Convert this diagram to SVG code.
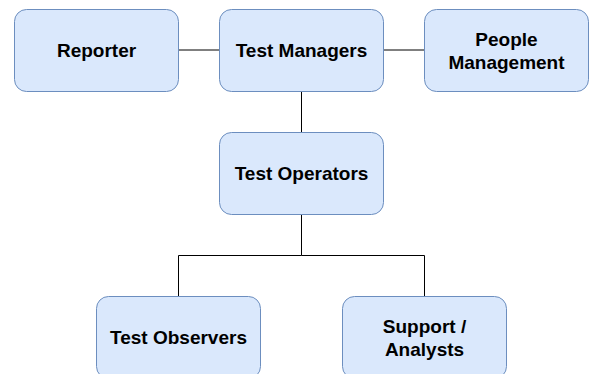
<svg xmlns="http://www.w3.org/2000/svg" width="590" height="374" viewBox="0 0 590 374">
<style>
.box{fill:#dae8fc;stroke:#6c8ebf;stroke-width:1}
.lbl{font-family:"Liberation Sans",Arial,sans-serif;font-weight:bold;font-size:19px;fill:#000;text-anchor:middle}
.edge{fill:none;stroke:#000;stroke-width:1}
</style>
<rect width="590" height="374" fill="#fff"/>
<g id="connectors">
<path class="edge" d="M178.5 50H219.5"/>
<path class="edge" d="M383.5 50H424.5"/>
<path class="edge" d="M301.5 91.5V132.5"/>
<path class="edge" d="M301.5 214.5V255.5H178.5V296.5"/>
<path class="edge" d="M301.5 255.5H424.5V296.5"/>
</g>
<g id="reporter">
<rect class="box" x="14.5" y="9.5" width="164" height="82" rx="12" ry="12"/>
<text class="lbl" x="96.5" y="57">Reporter</text>
</g>
<g id="test-managers">
<rect class="box" x="219.5" y="9.5" width="164" height="82" rx="12" ry="12"/>
<text class="lbl" x="301.5" y="57">Test Managers</text>
</g>
<g id="people-management">
<rect class="box" x="424.5" y="9.5" width="164" height="82" rx="12" ry="12"/>
<text class="lbl" x="506.5" y="45.5">People</text>
<text class="lbl" x="506.5" y="68.5">Management</text>
</g>
<g id="test-operators">
<rect class="box" x="219.5" y="132.5" width="164" height="82" rx="12" ry="12"/>
<text class="lbl" x="301.5" y="180">Test Operators</text>
</g>
<g id="test-observers">
<rect class="box" x="96.5" y="296.5" width="164" height="82" rx="12" ry="12"/>
<text class="lbl" x="178.5" y="344">Test Observers</text>
</g>
<g id="support-analysts">
<rect class="box" x="342.5" y="296.5" width="164" height="82" rx="12" ry="12"/>
<text class="lbl" x="424.5" y="332.5">Support /</text>
<text class="lbl" x="424.5" y="355.5">Analysts</text>
</g>
</svg>
